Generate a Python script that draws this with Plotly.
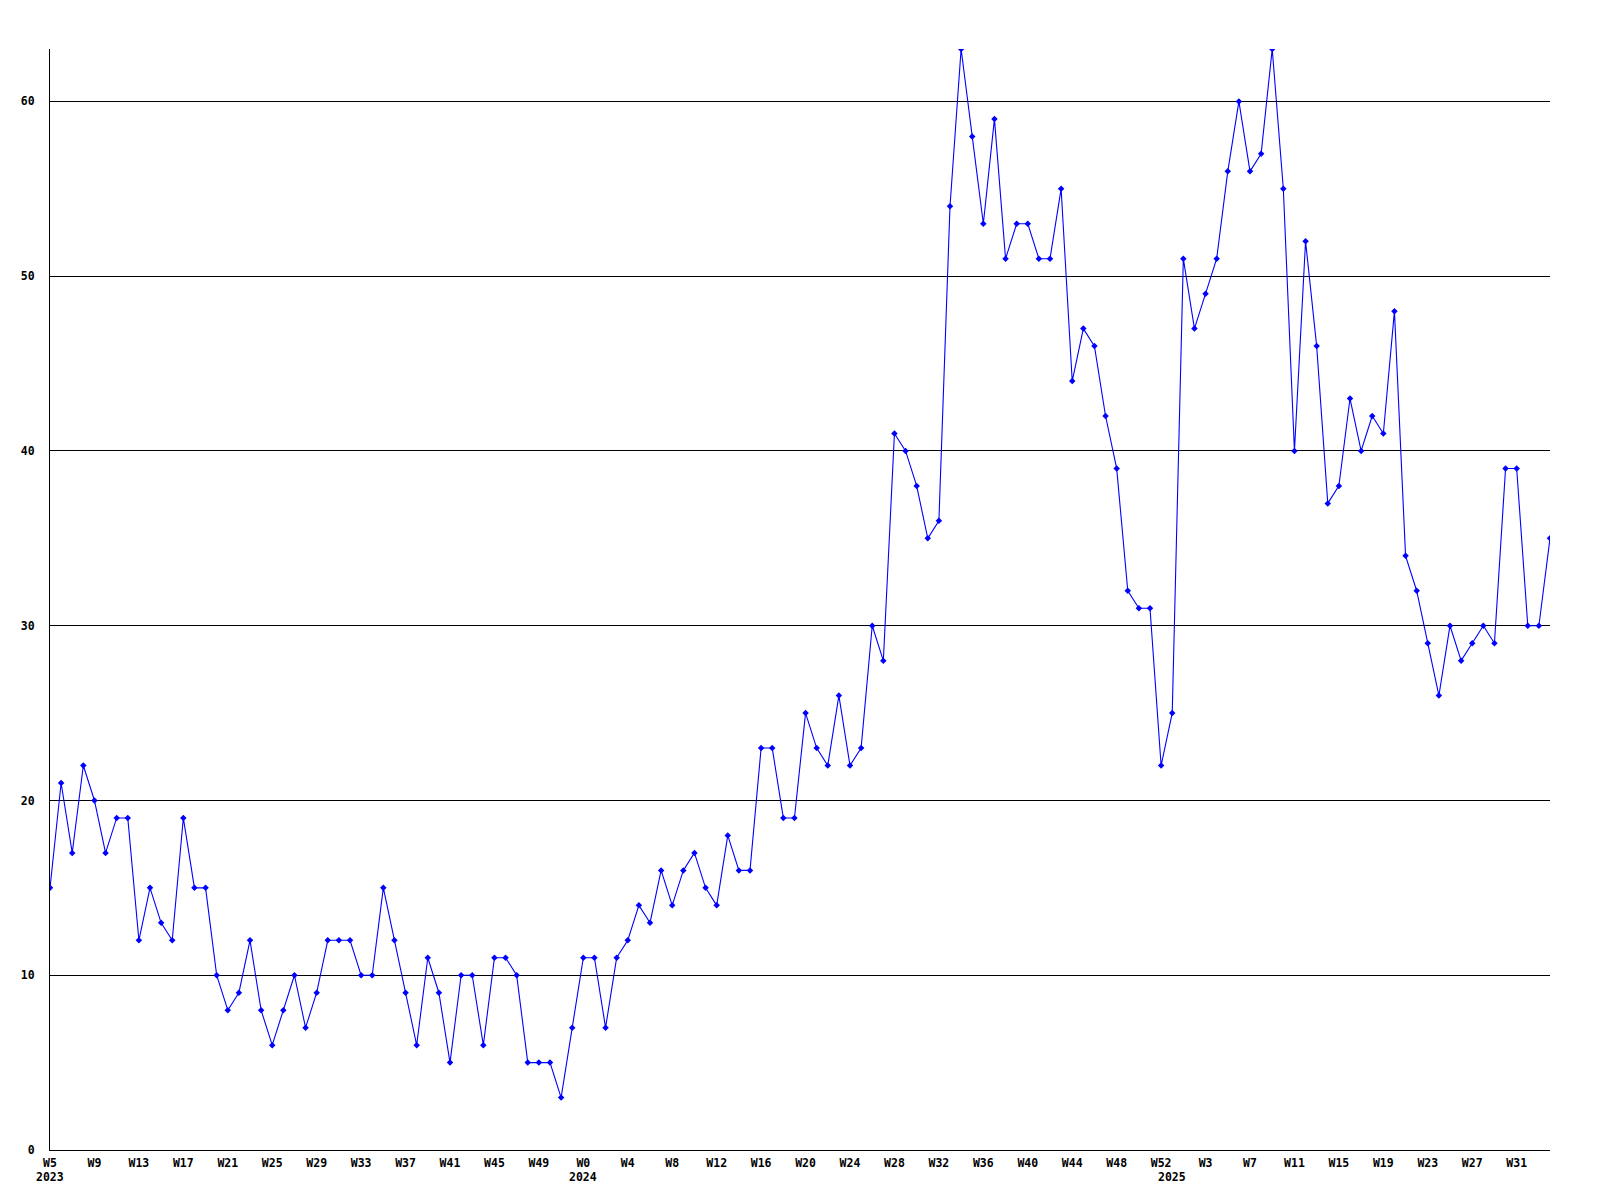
import plotly.graph_objects as go

# ---- data ----
years = [2023, 2024, 2025]
weeks_2023 = list(range(5, 53))
weeks_2024 = list(range(0, 53))
weeks_2025 = list(range(0, 35))

values_2023 = [15, 21, 17, 22, 20, 17, 19, 19, 12, 15, 13, 12, 19, 15, 15, 10,
               8, 9, 12, 8, 6, 8, 10, 7, 9, 12, 12, 12, 10, 10, 15, 12,
               9, 6, 11, 9, 5, 10, 10, 6, 11, 11, 10, 5, 5, 5, 3, 7]
values_2024 = [11, 11, 7, 11, 12, 14, 13, 16, 14, 16,
               17, 15, 14, 18, 16, 16, 23, 23, 19, 19,
               25, 23, 22, 26, 22, 23, 30, 28, 41, 40,
               38, 35, 36, 54, 63, 58, 53, 59, 51, 53,
               53, 51, 51, 55, 44, 47, 46, 42, 39, 32,
               31, 31, 22]
values_2025 = [25, 51, 47, 49, 51, 56, 60, 56, 57, 63,
               55, 40, 52, 46, 37, 38, 43, 40, 42, 41,
               48, 34, 32, 29, 26, 30, 28, 29, 30, 29,
               39, 39, 30, 30, 35]

y_ticks = [0, 10, 20, 30, 40, 50, 60]

# ---- build series ----
week_lists = [weeks_2023, weeks_2024, weeks_2025]
value_lists = [values_2023, values_2024, values_2025]

labels, values, year_start = [], [], []
for yr, wk, vals in zip(years, week_lists, value_lists):
    year_start.append(len(labels))
    labels += [f"W{w}" for w in wk]
    values += vals
x = list(range(len(values)))

tickvals = x[::4]
ticktext = [labels[i] for i in tickvals]

FONT = dict(family="DejaVu Sans Mono", size=11.5, color="black", weight="bold")

fig = go.Figure()
fig.add_trace(go.Scatter(
    x=x, y=values, mode="lines+markers",
    line=dict(color="#0000FF", width=1.1),
    marker=dict(symbol="diamond", size=5, color="#0000FF"),
    hoverinfo="skip",
))

for yr, idx in zip(years, year_start):
    fig.add_annotation(x=idx, y=0, xref="x", yref="paper", text=str(yr),
                       showarrow=False, yanchor="top", yshift=-18,
                       font=FONT)

# page body has an 8px margin; compensate so the plot area sits at 50..1550 x 49..1150
fig.update_layout(
    width=1584, height=1184,
    margin=dict(l=42, r=42, t=41, b=42),
    paper_bgcolor="white", plot_bgcolor="white",
    showlegend=False,
)
fig.update_xaxes(
    range=[0, len(values) - 1], tickvals=tickvals, ticktext=ticktext,
    showgrid=False, zeroline=False, showline=True, linecolor="black",
    linewidth=1, ticks="", tickfont=FONT, ticklabelstandoff=2,
)
fig.update_yaxes(
    range=[0, 63], tickvals=y_ticks, showgrid=True, gridcolor="black",
    gridwidth=1, zeroline=False, showline=True, linecolor="black",
    linewidth=1, ticks="", tickfont=FONT, ticklabelstandoff=12,
)

fig.write_html("out.html")
